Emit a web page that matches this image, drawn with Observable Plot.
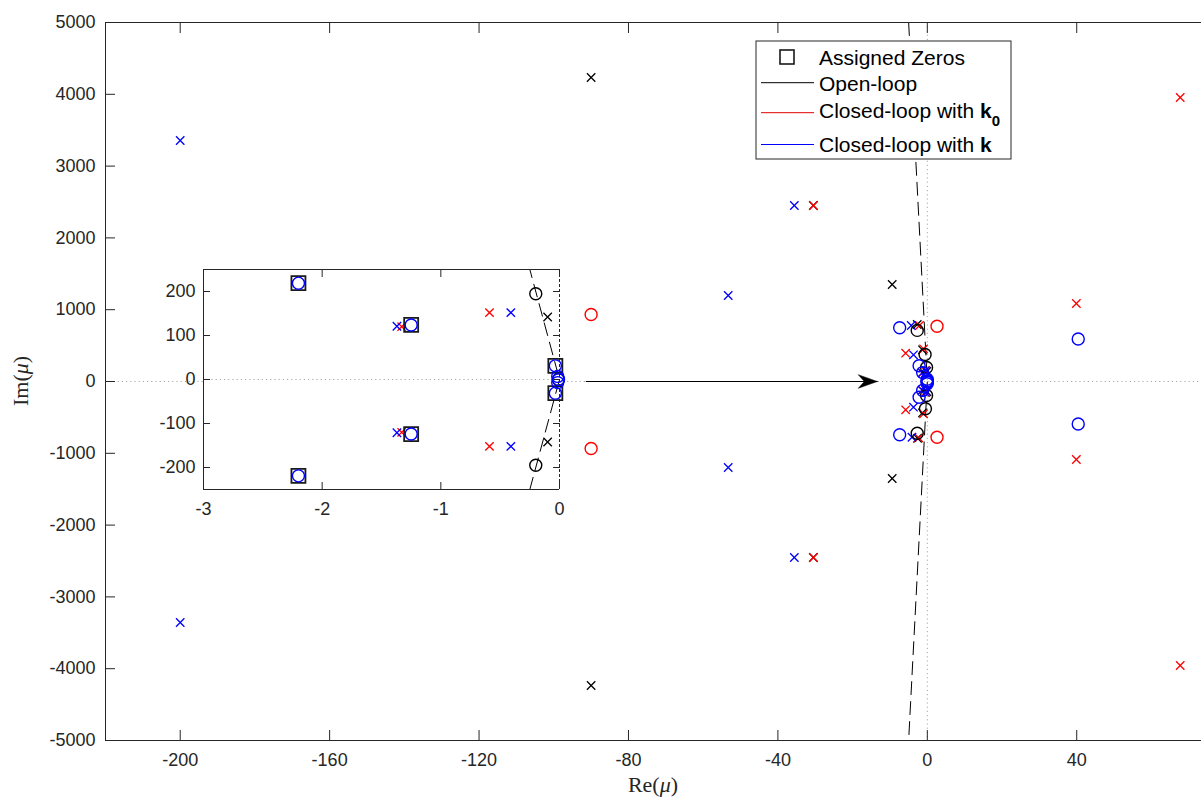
<!DOCTYPE html>
<html><head><meta charset="utf-8">
<script src="https://cdn.jsdelivr.net/npm/d3@7"></script>
<script src="https://cdn.jsdelivr.net/npm/@observablehq/plot@0.6"></script>
<style>
body{margin:0;background:#fff;}
#wrap{position:relative;width:1201px;height:799px;overflow:hidden;background:#fff;}
#inset{position:absolute;left:143px;top:267px;}
</style></head><body><div id="wrap"><div id="main"></div><div id="inset"></div></div>
<script>
// ---------- data ----------
const xTicks = [-200, -160, -120, -80, -40, 0, 40];
const yTicks = [-5000, -4000, -3000, -2000, -1000, 0, 1000, 2000, 3000, 4000, 5000];
const insetXTicks = [-3, -2, -1, 0];
const insetYTicks = [-200, -100, 0, 100, 200];

// open-loop poles (black x)
const olPoleRe = [-90.0, -90.0, -30.5, -30.5, -9.4, -9.4, -2.7, -2.6, -1.3, -1.3, -0.10, -0.10];
const olPoleIm = [4234, -4234, 2451, -2451, 1351, -1351, 794, -790, 441, -438, 142, -142];
// open-loop zeros (black o)
const olZeroRe = [-2.7, -2.7, -0.6, -0.5, -0.20, -0.20, -0.01];
const olZeroIm = [712, -720, 376, -380, 195, -195, 0];
// closed-loop with k0: poles (red x)
const k0PoleRe = [67.7, 67.7, 39.9, 39.9, -30.5, -30.5, -2.1, -2.3, -5.8, -5.8, -1.0, -1.0, -0.59, -0.59, -1.33, -1.33];
const k0PoleIm = [3955, -3955, 1086, -1086, 2451, -2451, 780, -785, 394, -394, 455, -450, 152, -152, 120, -120];
// closed-loop with k0: zeros (red o)
const k0ZeroRe = [-90.0, -90.0, 2.6, 2.6];
const k0ZeroIm = [933, -933, 770, -776];
// closed-loop with k: poles (blue x)
const kPoleRe = [-200.0, -200.0, -53.3, -53.3, -35.6, -35.6, -4.3, -4.1, -3.7, -3.7, -0.41, -0.41, -1.37, -1.37];
const kPoleIm = [3357, -3357, 1198, -1198, 2451, -2451, 780, -776, 372, -358, 152, -152, 121, -121];
// closed-loop with k: zeros (blue o)
const kZeroRe = [40.4, 40.4, -7.4, -7.4, -2.2, -2.2, -1.25, -1.25, -0.035, -0.035, -0.015, -0.015, -0.008];
const kZeroIm = [592, -592, 748, -742, 219, -219, 124, -124, 31, -31, 7, -7, 0];
// assigned zeros (squares)
const assignedRe = [-2.2, -2.2, -1.25, -1.25, -0.035, -0.035];
const assignedIm = [219, -219, 124, -124, 31, -31];
// dashed boundary line
const dashRe = [-5, 0, -5];
const dashIm = [5000, 0, -5000];
// arrow from inset to cluster
const arrowRe = [-91.3, -13.4];
const arrowIm = [0, 0];

// ---------- helpers ----------
const pts = (re, im) => re.map((r, i) => ({re: r, im: im[i]}));
const inInset = d => d.re >= -3 && d.re <= 0 && Math.abs(d.im) <= 250;
const fmt = d => d < 0 ? "-" + Math.abs(d) : String(d);
const rad = s => Math.sqrt(s / Math.PI);
const timesSym = {draw(c, s) { const h = rad(s); c.moveTo(-h, -h); c.lineTo(h, h); c.moveTo(-h, h); c.lineTo(h, -h); }};
const squareSym = {draw(c, s) { const h = rad(s); c.moveTo(-h, -h); c.lineTo(h, -h); c.lineTo(h, h); c.lineTo(-h, h); c.closePath(); }};
const headSym = {draw(c, s) { const h = rad(s); c.moveTo(0, 0); c.lineTo(-h, -0.36 * h); c.lineTo(-0.68 * h, 0); c.lineTo(-h, 0.36 * h); c.closePath(); }};

const AX = "#262626";
const FONT = "Liberation Sans, Arial, Helvetica, sans-serif";

function pointMarks(filter) {
  const xm = (re, im, col) => Plot.dot(pts(re, im), {x: "re", y: "im", filter, symbol: timesSym, r: 4.2, stroke: col, strokeWidth: 1.3, fill: "none"});
  const om = (re, im, col) => Plot.dot(pts(re, im), {x: "re", y: "im", filter, r: 6, stroke: col, strokeWidth: 1.4, fill: "none"});
  return [
    xm(olPoleRe, olPoleIm, "black"),
    xm(k0PoleRe, k0PoleIm, "red"),
    xm(kPoleRe, kPoleIm, "blue"),
    ...(filter ? [Plot.dot(pts(assignedRe, assignedIm), {x: "re", y: "im", filter, symbol: squareSym, r: 7, stroke: "#1a1a1a", strokeWidth: 1.8, fill: "none"})] : []),
    om(olZeroRe, olZeroIm, "black"),
    om(k0ZeroRe, k0ZeroIm, "red"),
    om(kZeroRe, kZeroIm, "blue")
  ];
}

// ---------- main plot ----------
const main = Plot.plot({
  width: 1201, height: 799,
  marginLeft: 105, marginRight: 0, marginTop: 22, marginBottom: 59,
  style: {fontFamily: FONT, fontSize: "18px", color: AX, background: "transparent", overflow: "visible"},
  x: {domain: [-220, 73.4], label: null},
  y: {domain: [-5000, 5000], label: null},
  marks: [
    Plot.ruleY([0], {stroke: "#a8a8a8", strokeWidth: 1, strokeDasharray: "1.2,3"}),
    Plot.ruleX([0], {stroke: "#a8a8a8", strokeWidth: 1, strokeDasharray: "1.2,3"}),
    Plot.line(pts(dashRe, dashIm), {x: "re", y: "im", stroke: "black", strokeWidth: 1, strokeDasharray: "13,7"}),
    Plot.line(pts(arrowRe, arrowIm), {x: "re", y: "im", stroke: "black", strokeWidth: 1.2}),
    Plot.dot(pts(arrowRe, arrowIm).slice(1), {x: "re", y: "im", symbol: headSym, r: 19, fill: "black", stroke: "black", strokeWidth: 0.5}),
    ...pointMarks(null),
    Plot.ruleY([-5000, 5000], {stroke: AX, strokeWidth: 1}),
    Plot.ruleX([-220], {stroke: AX, strokeWidth: 1}),
    Plot.axisX({anchor: "bottom", ticks: xTicks, tickFormat: fmt, tickSize: -10, tickPadding: 23, stroke: AX, fill: AX, label: null}),
    Plot.axisX({anchor: "top", ticks: xTicks, tickFormat: () => "", tickSize: -10, stroke: AX, label: null}),
    Plot.axisY({anchor: "left", ticks: yTicks, tickFormat: fmt, tickSize: -10, tickPadding: 20, stroke: AX, fill: AX, label: null})
  ]
});
document.getElementById("main").appendChild(main);

// ---------- inset plot ----------
const inset = Plot.plot({
  width: 60 + 356 + 4, height: 2 + 220 + 40,
  marginLeft: 60, marginRight: 4, marginTop: 2, marginBottom: 40,
  style: {fontFamily: FONT, fontSize: "18px", color: AX, background: "transparent", overflow: "visible"},
  x: {domain: [-3, 0], label: null},
  y: {domain: [-250, 250], label: null},
  marks: [
    Plot.frame({fill: "white", stroke: null}),
    Plot.ruleY([0], {stroke: "#a8a8a8", strokeWidth: 1, strokeDasharray: "1.2,3"}),
    Plot.line(pts(dashRe, dashIm), {x: "re", y: "im", stroke: "black", strokeWidth: 1, strokeDasharray: "13,7", clip: true}),
    Plot.ruleY([-250, 250], {stroke: AX, strokeWidth: 1}),
    Plot.ruleX([-3], {stroke: AX, strokeWidth: 1}),
    Plot.ruleX([0], {stroke: AX, strokeWidth: 1, strokeDasharray: "3,2"}),
    ...pointMarks(inInset),
    Plot.axisX({anchor: "bottom", ticks: insetXTicks, tickFormat: fmt, tickSize: -7, tickPadding: 20, stroke: AX, fill: AX, label: null}),
    Plot.axisX({anchor: "top", ticks: insetXTicks, tickFormat: () => "", tickSize: -7, stroke: AX, label: null}),
    Plot.axisY({anchor: "left", ticks: insetYTicks, tickFormat: fmt, tickSize: -7, tickPadding: 15, stroke: AX, fill: AX, label: null}),
    Plot.axisY({anchor: "right", ticks: insetYTicks, tickFormat: () => "", tickSize: -7, stroke: AX, label: null})
  ]
});
document.getElementById("inset").appendChild(inset);

// ---------- axis labels & legend ----------
const svg = d3.select(main);
svg.append("text").attr("x", 653).attr("y", 792).attr("text-anchor", "middle")
  .attr("font-family", "Liberation Serif, Times New Roman, serif").attr("font-size", 22).attr("fill", AX)
  .call(t => { t.append("tspan").text("Re("); t.append("tspan").attr("font-style", "italic").text("μ"); t.append("tspan").text(")"); });
svg.append("text").attr("transform", "translate(28,381) rotate(-90)").attr("text-anchor", "middle")
  .attr("font-family", "Liberation Serif, Times New Roman, serif").attr("font-size", 22).attr("fill", AX)
  .call(t => { t.append("tspan").text("Im("); t.append("tspan").attr("font-style", "italic").text("μ"); t.append("tspan").text(")"); });

const leg = svg.append("g").attr("font-family", FONT).attr("font-size", 21).attr("fill", "black").attr("text-anchor", "start");
leg.append("rect").attr("x", 756).attr("y", 41).attr("width", 255).attr("height", 118)
  .attr("fill", "white").attr("stroke", AX).attr("stroke-width", 1);
leg.append("rect").attr("x", 780).attr("y", 50).attr("width", 14).attr("height", 14)
  .attr("fill", "none").attr("stroke", "#1a1a1a").attr("stroke-width", 1.6);
leg.append("text").attr("x", 819).attr("y", 64.5).text("Assigned Zeros");
const rows = [
  {y: 82.7, base: 91, color: "black", label: "Open-loop", bold: null, sub: null},
  {y: 112.7, base: 117.5, color: "#e00000", label: "Closed-loop with ", bold: "k", sub: "0"},
  {y: 144.5, base: 151.8, color: "blue", label: "Closed-loop with ", bold: "k", sub: null}
];
for (const r of rows) {
  leg.append("line").attr("x1", 761).attr("x2", 814).attr("y1", r.y).attr("y2", r.y)
    .attr("stroke", r.color).attr("stroke-width", 1);
  const t = leg.append("text").attr("x", 819).attr("y", r.base);
  t.append("tspan").text(r.label);
  if (r.bold) t.append("tspan").attr("font-weight", "bold").text(r.bold);
  if (r.sub) t.append("tspan").attr("font-weight", "bold").attr("font-size", 15).attr("dy", 8).text(r.sub);
}
</script></body></html>
